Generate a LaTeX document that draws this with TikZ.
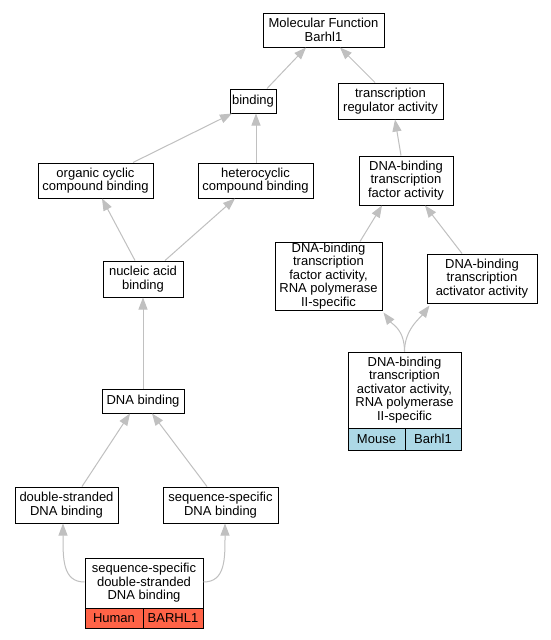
\documentclass[tikz,border=0pt]{standalone}
\usepackage{fontspec}
\setmainfont{Liberation Sans}
\usetikzlibrary{arrows.meta,calc}
\definecolor{humanred}{HTML}{FF6347}
\definecolor{mouseblue}{HTML}{ADD8E6}
\definecolor{edgegray}{HTML}{C0C0C0}
\begin{document}
\begin{tikzpicture}[x=1pt,y=-1pt,
  box/.style={draw=black, line width=1pt, inner sep=0pt, align=center,
    font=\fontsize{13}{13.5}\selectfont},
  cell/.style={box},
  edge/.style={draw=edgegray, line width=1pt, -{Triangle[length=12pt,width=9pt,fill=edgegray]}}]
\useasboundingbox (0,0) rectangle (551,640);
\fill[white] (0,0) rectangle (551,640);
% nodes
\node[box, minimum width=121, minimum height=34] (mf) at (323.5,30) {Molecular Function\\Barhl1};
\node[box, minimum width=46, minimum height=24] (binding) at (253,101) {binding};
\node[box, minimum width=105, minimum height=36] (tra) at (390.5,101) {transcription\\regulator activity};
\node[box, minimum width=115, minimum height=35] (occb) at (95.5,180.5) {organic cyclic\\compound binding};
\node[box, minimum width=115, minimum height=35] (hcb) at (255.5,180.5) {heterocyclic\\compound binding};
\node[box, minimum width=94, minimum height=49] (tf) at (406,180.5) {DNA-binding\\transcription\\factor activity};
\node[box, minimum width=80, minimum height=36] (nab) at (143,279) {nucleic acid\\binding};
\node[box, minimum width=107, minimum height=68] (tfrna) at (328.5,276) {DNA-binding\\transcription\\factor activity,\\RNA polymerase\\II-specific};
\node[box, minimum width=110, minimum height=49] (taa) at (482,278.5) {DNA-binding\\transcription\\activator activity};
\node[box, minimum width=113, minimum height=76] (br) at (404.5,390) {DNA-binding\\transcription\\activator activity,\\RNA polymerase\\II-specific};
\node[cell, fill=mouseblue, minimum width=57, minimum height=22] (brm) at (376.5,439) {Mouse};
\node[cell, fill=mouseblue, minimum width=56, minimum height=22] (brg) at (433,439) {Barhl1};
\node[box, minimum width=82, minimum height=24] (dnab) at (143,401) {DNA binding};
\node[box, minimum width=103, minimum height=36] (dsdb) at (66.5,505) {double-stranded\\DNA binding};
\node[box, minimum width=115, minimum height=36] (ssdb) at (220.5,505) {sequence-specific\\DNA binding};
\node[box, minimum width=118, minimum height=50] (bl) at (144,583) {sequence-specific\\double-stranded\\DNA binding};
\node[cell, fill=humanred, minimum width=58, minimum height=20] (blh) at (114,618) {Human};
\node[cell, fill=humanred, minimum width=60, minimum height=20] (blg) at (173,618) {BARHL1};
% edges
\draw[edge] ([xshift=14]binding.north) -- ([xshift=-17.5]mf.south);
\draw[edge] ([xshift=-15.5]tra.north) -- ([xshift=16.5]mf.south);
\draw[edge] ([xshift=37.5]occb.north) -- ([xshift=-21]binding.south);
\draw[edge] ([xshift=0.5]hcb.north) -- ([xshift=3]binding.south);
\draw[edge] ([xshift=-8]nab.north) -- ([xshift=6.5]occb.south);
\draw[edge] ([xshift=22]nab.north) -- ([xshift=-20.5]hcb.south);
\draw[edge] (dnab.north) -- (nab.south);
\draw[edge] ([xshift=15.5]dsdb.north) -- ([xshift=-13]dnab.south);
\draw[edge] ([xshift=-13.5]ssdb.north) -- ([xshift=9]dnab.south);
\draw[edge] ([yshift=1]bl.west) .. controls +(-22,0) and +(0,35) .. ([xshift=-3.5]dsdb.south);
\draw[edge] ([yshift=1]bl.east) .. controls +(22,0) and +(0,35) .. ([xshift=4.5]ssdb.south);
\draw[edge] ([xshift=31.5]tfrna.north) -- ([xshift=-24]tf.south);
\draw[edge] ([xshift=-20]taa.north) -- ([xshift=19]tf.south);
\draw[edge] ([xshift=-5]tf.north) -- ([xshift=4.5]tra.south);
\draw[edge] (br.north) .. controls +(0,-22) and +(9,12) .. ([xshift=1,yshift=-2]tfrna.south east);
\draw[edge] (br.north) .. controls +(0,-22) and +(-9,12) .. ([xshift=3,yshift=-2]taa.south west);
\end{tikzpicture}
\end{document}
